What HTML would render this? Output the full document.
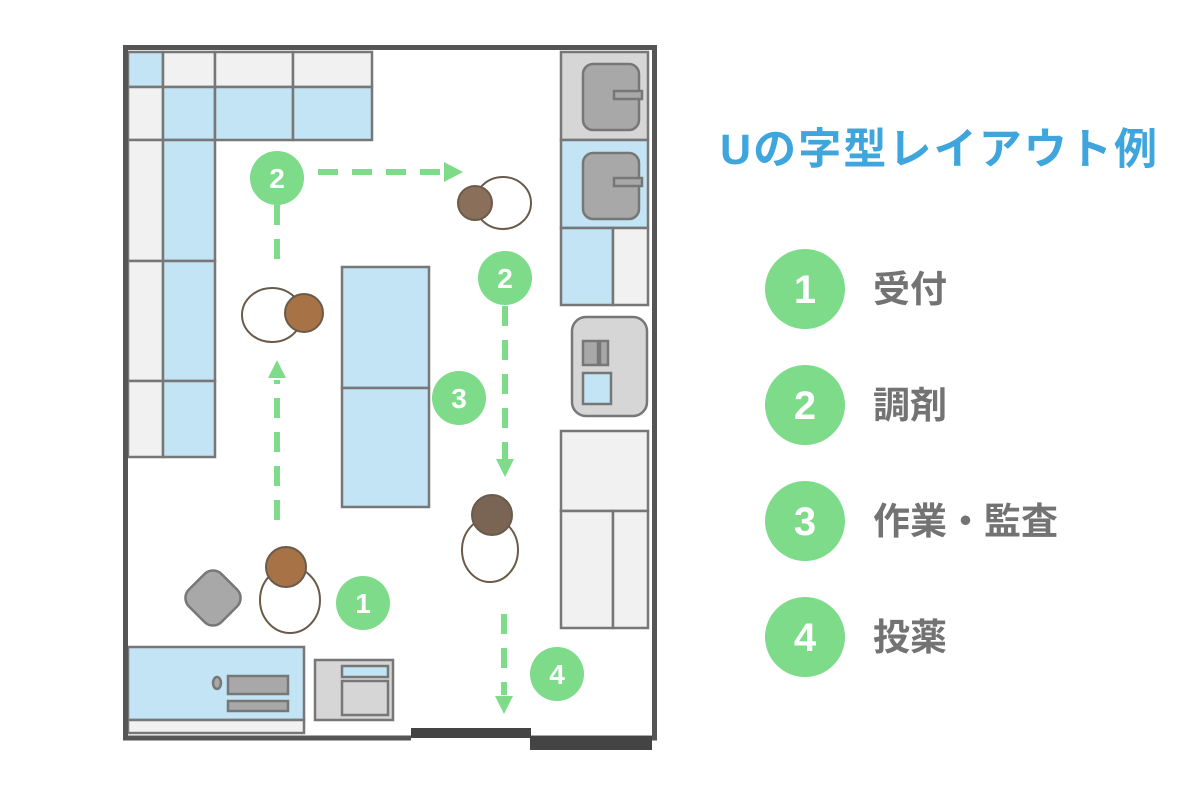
<!DOCTYPE html>
<html><head><meta charset="utf-8"><style>
html,body{margin:0;padding:0;background:#fff;width:1200px;height:799px;overflow:hidden}
text{font-family:"Liberation Sans","Noto Sans CJK JP",sans-serif}
</style></head><body>
<svg width="1200" height="799" viewBox="0 0 1200 799" xmlns="http://www.w3.org/2000/svg">
<g stroke="#777" stroke-width="2.5">
<rect x="128" y="52" width="35" height="35" fill="#c2e4f4"/>
<rect x="163" y="52" width="52" height="35" fill="#f1f1f1"/>
<rect x="215" y="52" width="78" height="35" fill="#f1f1f1"/>
<rect x="293" y="52" width="79" height="35" fill="#f1f1f1"/>
<rect x="128" y="87" width="35" height="53" fill="#f1f1f1"/>
<rect x="163" y="87" width="52" height="53" fill="#c2e4f4"/>
<rect x="215" y="87" width="78" height="53" fill="#c2e4f4"/>
<rect x="293" y="87" width="79" height="53" fill="#c2e4f4"/>
<rect x="128" y="140" width="35" height="121" fill="#f1f1f1"/>
<rect x="163" y="140" width="52" height="121" fill="#c2e4f4"/>
<rect x="128" y="261" width="35" height="120" fill="#f1f1f1"/>
<rect x="163" y="261" width="52" height="120" fill="#c2e4f4"/>
<rect x="128" y="381" width="35" height="76" fill="#f1f1f1"/>
<rect x="163" y="381" width="52" height="76" fill="#c2e4f4"/>
<rect x="342" y="267" width="87" height="121" fill="#c2e4f4"/>
<rect x="342" y="388" width="87" height="119" fill="#c2e4f4"/>
<rect x="561" y="52" width="87" height="88" fill="#d6d6d6"/>
<rect x="583" y="64" width="56" height="66" rx="10" fill="#a8a8a8"/>
<rect x="614" y="91" width="28" height="8" fill="#a8a8a8"/>
<rect x="561" y="140" width="87" height="88" fill="#c2e4f4"/>
<rect x="583" y="153" width="56" height="66" rx="10" fill="#a8a8a8"/>
<rect x="614" y="178" width="28" height="8" fill="#a8a8a8"/>
<rect x="561" y="228" width="52" height="77" fill="#c2e4f4"/>
<rect x="613" y="228" width="35" height="77" fill="#f1f1f1"/>
<rect x="572" y="317" width="75" height="99" rx="14" fill="#d6d6d6"/>
<rect x="583" y="341" width="15" height="24" fill="#a8a8a8"/>
<rect x="600" y="341" width="8" height="24" fill="#a8a8a8"/>
<rect x="583" y="373" width="28" height="31" fill="#c2e4f4"/>
<rect x="561" y="431" width="87" height="80" fill="#f1f1f1"/>
<rect x="561" y="511" width="52" height="117" fill="#f1f1f1"/>
<rect x="613" y="511" width="35" height="117" fill="#f1f1f1"/>
<rect x="128" y="647" width="176" height="73" fill="#c2e4f4"/>
<rect x="128" y="720" width="176" height="13" fill="#f1f1f1"/>
<ellipse cx="217" cy="683" rx="4" ry="6" fill="#a8a8a8"/>
<rect x="228" y="676" width="60" height="18" fill="#a8a8a8"/>
<rect x="228" y="701" width="60" height="10" fill="#a8a8a8"/>
<rect x="315" y="660" width="78" height="60" fill="#d6d6d6"/>
<rect x="342" y="666" width="46" height="11" fill="#c2e4f4"/>
<rect x="342" y="681" width="46" height="34" fill="#d6d6d6"/>
<rect x="190" y="575" width="46" height="46" rx="12" fill="#a8a8a8" transform="rotate(45 213 598)"/>
</g>
<path d="M411 738 H125.5 V47.5 H654.5 V738 H530" fill="none" stroke="#555" stroke-width="5"/>
<rect x="411" y="728" width="120" height="10" fill="#444"/>
<rect x="530" y="736" width="122" height="14" fill="#444"/>
<g stroke="#7ddb8a" stroke-width="6" stroke-dasharray="20 14" fill="none">
<line x1="277" y1="205" x2="277" y2="265"/>
<line x1="277" y1="520" x2="277" y2="380"/>
<line x1="318" y1="172" x2="445" y2="172"/>
<line x1="505" y1="306" x2="505" y2="460"/>
<line x1="504" y1="614" x2="504" y2="695"/>
</g>
<g fill="#7ddb8a">
<polygon points="277,360 268,378 286,378"/>
<polygon points="463,172 444,162 444,182"/>
<polygon points="505,477 496,459 514,459"/>
<polygon points="504,714 495,696 513,696"/>
<circle cx="277" cy="178" r="27"/><circle cx="505" cy="278" r="27"/>
<circle cx="459" cy="398" r="27"/><circle cx="363" cy="603" r="27"/>
<circle cx="557" cy="674" r="27"/>
<circle cx="805" cy="289" r="40"/><circle cx="805" cy="405" r="40"/>
<circle cx="805" cy="521" r="40"/><circle cx="805" cy="637" r="40"/>
</g>
<g fill="#fff" font-weight="bold" text-anchor="middle">
<text x="277" y="188" font-size="28">2</text><text x="505" y="288" font-size="28">2</text>
<text x="459" y="408" font-size="28">3</text><text x="363" y="613" font-size="28">1</text>
<text x="557" y="684" font-size="28">4</text>
<text x="805" y="303" font-size="40">1</text><text x="805" y="419" font-size="40">2</text>
<text x="805" y="535" font-size="40">3</text><text x="805" y="651" font-size="40">4</text>
</g>
<g stroke="#6a5a4a" stroke-width="2">
<ellipse cx="503" cy="203" rx="28" ry="26" fill="#fff"/>
<circle cx="475" cy="203" r="17" fill="#8a6f5a"/>
<ellipse cx="272" cy="315" rx="30" ry="27" fill="#fff"/>
<circle cx="304" cy="313" r="19" fill="#a87247"/>
<ellipse cx="290" cy="600" rx="30" ry="33" fill="#fff"/>
<circle cx="286" cy="567" r="20" fill="#a87247"/>
<ellipse cx="490" cy="550" rx="28" ry="32" fill="#fff"/>
<circle cx="492" cy="515" r="20" fill="#7a6555"/>
</g>
<text x="720" y="164" font-size="43" font-weight="bold" fill="#3ea6dc" textLength="437" lengthAdjust="spacing">Uの字型レイアウト例</text>
<g fill="#737373" font-size="37" font-weight="bold">
<text x="873" y="302">受付</text>
<text x="873" y="418">調剤</text>
<text x="873" y="534">作業・監査</text>
<text x="873" y="650">投薬</text>
</g>
</svg>
</body></html>
